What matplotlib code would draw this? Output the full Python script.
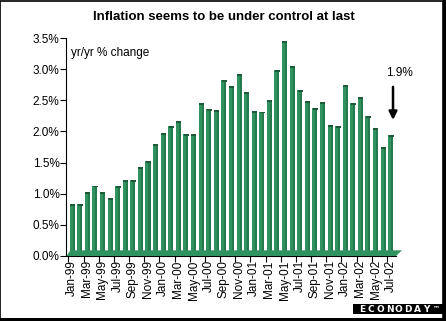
import numpy as np
import matplotlib
matplotlib.use('Agg')
import matplotlib.pyplot as plt
from matplotlib.patches import Polygon, Rectangle

plt.rcParams['font.family'] = ['Liberation Sans', 'DejaVu Sans']

# monthly yr/yr inflation, Jan-99 .. Jul-02
months = ['Jan', 'Feb', 'Mar', 'Apr', 'May', 'Jun',
          'Jul', 'Aug', 'Sep', 'Oct', 'Nov', 'Dec']
years = ['99', '00', '01', '02']
values = [0.83, 0.83, 1.03, 1.13, 1.03, 0.93, 1.12, 1.22, 1.22, 1.43, 1.52, 1.80,
          1.98, 2.08, 2.17, 1.96, 1.96, 2.45, 2.36, 2.34, 2.82, 2.73, 2.92, 2.63,
          2.33, 2.32, 2.50, 2.98, 3.45, 3.05, 2.67, 2.49, 2.38, 2.47, 2.10, 2.09,
          2.75, 2.46, 2.55, 2.25, 2.05, 1.75, 1.94]
labels = [f'{m}-{y}' for y in years for m in months][:len(values)]
yticks = [0.0, 0.5, 1.0, 1.5, 2.0, 2.5, 3.0, 3.5]
callout = '1.9%'

bar_color = '#30935f'
side_color = '#257a4d'
cap_color = '#1c5a3a'

fig = plt.figure(figsize=(4.46, 3.21), dpi=100)
ax = fig.add_axes([0.149, 0.2025, 0.739, 0.679])

x = np.arange(len(values))
w = 0.66
ax.bar(x, values, width=w, color=bar_color, zorder=2)
# darker right side for the 3-D look
ax.bar(x + w * 0.3, values, width=w * 0.4, color=side_color, zorder=2)
# top caps
ax.bar(x + 0.05, [0.03] * len(values), bottom=np.array(values) - 0.03,
       width=w, color=cap_color, zorder=3)

ax.set_xlim(-0.75, len(values) - 0.3)
ax.set_ylim(0, 3.5)

# floor band
floor = Polygon([(0, 0), (1, 0), (1.018, 0.026), (0.012, 0.026)],
                closed=True, transform=ax.transAxes, color=bar_color,
                zorder=4, clip_on=False, lw=0)
ax.add_patch(floor)

ax.set_yticks(yticks)
ax.set_yticklabels([f'{v:.1f}%' for v in yticks], fontsize=8.5)
ax.set_xticks(x[::2])
ax.set_xticklabels(labels[::2], rotation=90, fontsize=8.5)
ax.set_xticks(np.arange(-0.5, len(values), 2), minor=True)
ax.tick_params(axis='x', which='major', length=0, pad=3)
ax.tick_params(axis='x', which='minor', length=4, width=0.8)
ax.tick_params(axis='y', length=4, width=0.8, pad=1)

for s in ['top', 'right']:
    ax.spines[s].set_visible(False)
ax.spines['left'].set_linewidth(0.8)
ax.spines['bottom'].set_linewidth(0.8)

ax.text(0.015, 0.96, 'yr/yr % change', transform=ax.transAxes,
        fontsize=8.5, va='top', ha='left')

last = len(values) - 1
ax.annotate('', xy=(last + 0.3, values[-1] + 0.2),
            xytext=(last + 0.3, values[-1] + 0.82),
            arrowprops=dict(arrowstyle='-|>', color='black', lw=1.8,
                            mutation_scale=12))
ax.text(last + 1.1, values[-1] + 1.0, callout,
        fontsize=8.5, ha='center', va='center')

fig.text(0.502, 0.948, 'Inflation seems to be under control at last',
         fontsize=9.5, fontweight='bold', ha='center', va='center')

# frame
fig.add_artist(Rectangle((0.001, 0.004), 0.992, 0.994, transform=fig.transFigure,
                         fill=False, ec='black', lw=1.2))
fig.add_artist(Rectangle((0.993, 0.0), 0.007, 1.0, transform=fig.transFigure,
                         color='black', lw=0))
fig.add_artist(Rectangle((0.0, 0.0), 1.0, 0.01, transform=fig.transFigure,
                         color='black', lw=0))

# logo
fig.add_artist(Rectangle((0.792, 0.022), 0.203, 0.03, transform=fig.transFigure,
                         color='black', lw=0))
logo = 'ECONODAY'
for i, ch in enumerate(logo):
    fig.text(0.812 + i * 0.0205, 0.037, ch, color='white', fontsize=6.5,
             fontweight='bold', family='DejaVu Sans', ha='center', va='center')
fig.text(0.978, 0.041, '™', color='white', fontsize=5,
         fontweight='bold', family='DejaVu Sans', ha='center', va='center')

fig.savefig('out.png', dpi=100)
